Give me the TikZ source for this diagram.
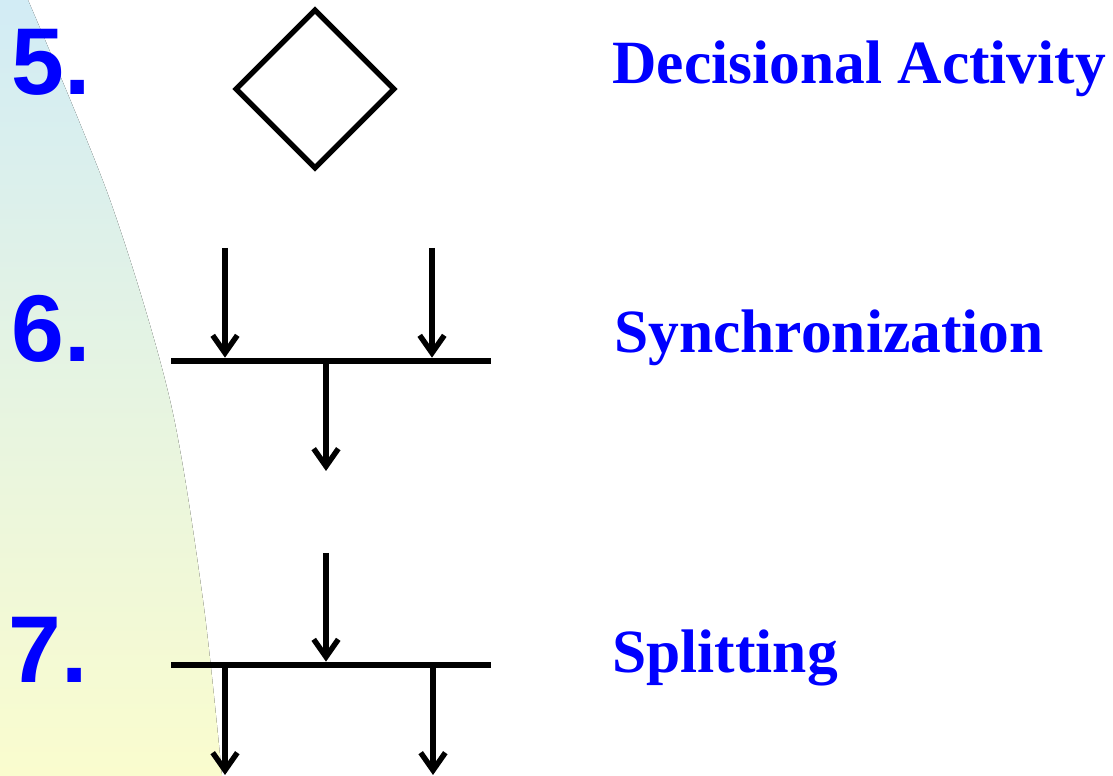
\documentclass[tikz,border=0pt]{standalone}
\usepackage{fontspec}
\setmainfont{Liberation Serif}
\newfontfamily\numfont{Liberation Sans}
\usetikzlibrary{positioning}
\usetikzlibrary{arrows.meta,shapes.geometric}
\usetikzlibrary{calc}
\definecolor{itemblue}{RGB}{0,0,255}
\definecolor{bgblue}{RGB}{210,236,245}
\definecolor{bggreen}{RGB}{230,244,228}
\definecolor{bgyellow}{RGB}{250,252,206}

\begin{document}
\begin{tikzpicture}[x=0.02cm,y=-0.02cm,
  num/.style={font=\numfont\bfseries\fontsize{54}{54}\selectfont,text=itemblue,anchor=base west,inner sep=0},
  lbl/.style={font=\bfseries\fontsize{35}{35}\selectfont,text=itemblue,anchor=base west,inner sep=0},
  bar/.style={fill=black,inner sep=0,minimum width=6.4cm,minimum height=3.4pt},
  flow/.style={line width=3.1pt,-{Straight Barb[length=10pt,width=14pt]}}]
\useasboundingbox (0,0) rectangle (1113,776);
\fill[top color=bgblue,middle color=bggreen,bottom color=bgyellow]
  (0,0) -- plot[smooth] coordinates {(28,0) (110,200) (170,400) (203,600) (222,776)} -- (0,776) -- cycle;

% numbers and labels
\foreach \k/\nx/\ny/\lx/\ly/\txt in {5/11/95/612/84/Decisional Activity,
    6/11/362/614/353/Synchronization, 7/8/683/612/673/Splitting} {
  \node[num] (n\k) at (\nx,\ny) {\k.};
  \node[lbl] (l\k) at (\lx,\ly) {\txt};
  }

% decision
\node[draw,diamond,aspect=1,line width=3pt,inner sep=0,minimum size=3.2cm] (dec) at (315,89) {};

% synchronization
\node[bar] (sync) at (331,361) {};
\foreach \x [count=\i] in {225,432} {
  \coordinate (sin\i) at (\x,248);
  \draw[flow] (sin\i) -- (sin\i |- sync.north);
  }
\coordinate (sout) at (326,471);
\draw[flow] (sync.south -| sout) -- (sout);

% splitting
\node[bar] (split) at (331,665) {};
\coordinate (pin) at (326,553);
\draw[flow] (pin) -- (pin |- split.north);
\foreach \x [count=\i] in {225,433} {
  \coordinate (pout\i) at (\x,775);
  \draw[flow] (split.south -| pout\i) -- (pout\i);
  }
\end{tikzpicture}
\end{document}
